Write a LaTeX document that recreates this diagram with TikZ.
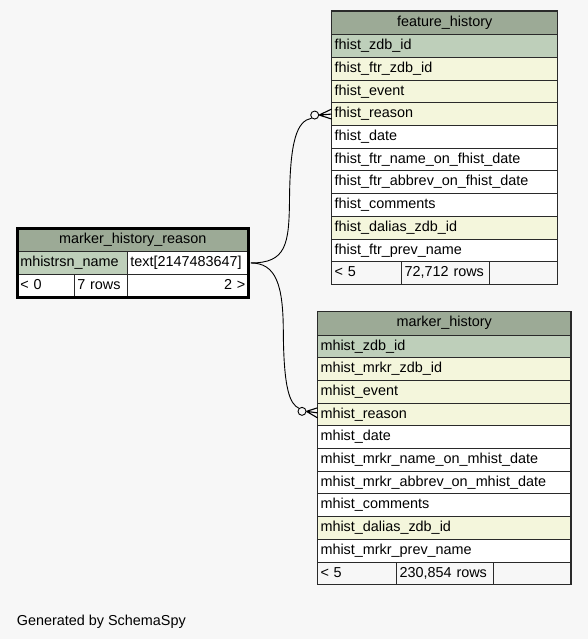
\documentclass[tikz,border=0pt]{standalone}
\usepackage{fontspec}
\setmainfont{Liberation Sans}
\usetikzlibrary{fit,calc}
\definecolor{bg}{HTML}{F7F7F7}
\definecolor{hd}{HTML}{9CAA96}
\definecolor{pk}{HTML}{BECFBA}
\definecolor{fk}{HTML}{F4F6DC}
\definecolor{wh}{HTML}{FFFFFF}
\definecolor{bd}{HTML}{2A2A2A}
\begin{document}
\begin{tikzpicture}[x=1pt,y=-1pt,font=\fontsize{14.4}{16}\selectfont,
  cell/.style={draw=bd, line width=0.8pt, anchor=north west, outer sep=0pt,
    inner xsep=3pt, inner ysep=0pt, minimum height=22.7pt, text height=10pt,
    text depth=2.5pt, align=left, text width=#1},
  hcell/.style={cell=#1, fill=hd, align=center, minimum height=23.6pt},
  fcell/.style={cell=#1, fill=bg},
  tbl/.style={draw=bd, line width=1.2pt, inner sep=0pt},
  conn/.style={draw=black, line width=0.9pt},
  odot/.style={circle, draw=black, fill=bg, line width=0.9pt, minimum size=8pt, inner sep=0pt},
  crow/.style={draw=black, line width=1.1pt}]
\fill[bg] (0,0) rectangle (588,639);
\useasboundingbox (0,0) rectangle (588,639);

% feature_history
\node[hcell=220pt] (fh0) at (331.7,11) {feature\_history};
\foreach \t/\f [count=\i] in {fhist\_zdb\_id/pk, fhist\_ftr\_zdb\_id/fk, fhist\_event/fk,
  fhist\_reason/fk, fhist\_date/wh, fhist\_ftr\_name\_on\_fhist\_date/wh,
  fhist\_ftr\_abbrev\_on\_fhist\_date/wh, fhist\_comments/wh, fhist\_dalias\_zdb\_id/fk,
  fhist\_ftr\_prev\_name/wh}{
  \pgfmathtruncatemacro\p{\i-1}
  \node[cell=220pt, fill=\f] (fh\i) at (fh\p.south west) {\t};
}
\node[fcell=64pt] (fhf1) at (fh10.south west) {< 5};
\node[fcell=81.6pt] (fhf2) at (fhf1.north east) {72,712 rows};
\node[fcell=62.4pt] (fhf3) at (fhf2.north east) {};
\node[tbl, fit=(fh0)(fhf3)] (fh) {};

% marker_history
\node[hcell=247.5pt] (mh0) at (317.5,311.3) {marker\_history};
\foreach \t/\f [count=\i] in {mhist\_zdb\_id/pk, mhist\_mrkr\_zdb\_id/fk, mhist\_event/fk,
  mhist\_reason/fk, mhist\_date/wh, mhist\_mrkr\_name\_on\_mhist\_date/wh,
  mhist\_mrkr\_abbrev\_on\_mhist\_date/wh, mhist\_comments/wh, mhist\_dalias\_zdb\_id/fk,
  mhist\_mrkr\_prev\_name/wh}{
  \pgfmathtruncatemacro\p{\i-1}
  \node[cell=247.5pt, fill=\f] (mh\i) at (mh\p.south west) {\t};
}
\node[fcell=73.2pt] (mhf1) at (mh10.south west) {< 5};
\node[fcell=90.6pt] (mhf2) at (mhf1.north east) {230,854 rows};
\node[fcell=71.7pt] (mhf3) at (mhf2.north east) {};
\node[tbl, fit=(mh0)(mhf3)] (mh) {};

% marker_history_reason
\node[hcell=225pt] (mr0) at (17.3,228) {marker\_history\_reason};
\node[cell=104pt, fill=pk] (mr1) at (mr0.south west) {mhistrsn\_name};
\node[cell=115pt, fill=wh] (mr2) at (mr1.north east) {text[2147483647]};
\node[cell=51pt, fill=wh] (mrf1) at (mr1.south west) {< 0};
\node[cell=47pt, fill=wh] (mrf2) at (mrf1.north east) {7 rows};
\node[cell=115pt, fill=wh, align=right] (mrf3) at (mrf2.north east) {2 >};
\node[draw=black, line width=3pt, inner sep=0pt, fit=(mr0)(mrf3)] (mr) {};

% relationships
\node[odot] (c1) at ($(fh4.west)+(-17,1)$) {};
\node[odot] (c2) at ($(mh4.west)+(-15.5,-3)$) {};
\coordinate (p1) at ($(mr.east |- mr2.east)+(1,0)$);
\draw[conn] (p1) .. controls (286,263) and (289,245) .. (289.5,200)
  .. controls (290,140) and (297,121) .. (c1.south west);
\draw[conn] (p1) .. controls (276,263) and (283,285) .. (283.3,330)
  .. controls (283.6,390) and (290,404) .. (c2.north west);
\draw[crow] (c1.east) -- ($(fh4.west)+(0,-5)$)
  (c1.east) -- (fh4.west)
  (c1.east) -- ($(fh4.west)+(0,5)$);
\draw[crow] (c2.east) -- ($(mh4.west)+(0,-6.5)$)
  (c2.east) -- ($(mh4.west)+(0,-1.5)$)
  (c2.east) -- ($(mh4.west)+(0,3.5)$);

\node[anchor=base west, inner sep=0pt] (gen) at (16.7,625) {Generated by SchemaSpy};
\end{tikzpicture}
\end{document}
